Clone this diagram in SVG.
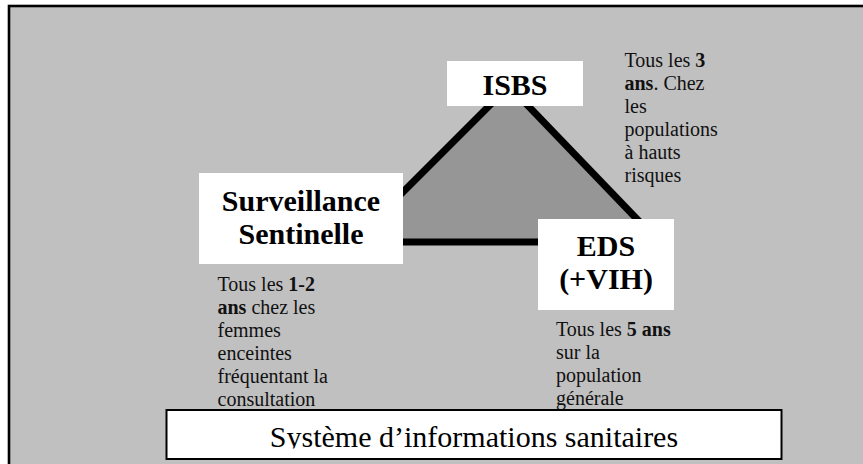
<svg xmlns="http://www.w3.org/2000/svg" width="863" height="464" viewBox="0 0 863 464">
<style>
text{font-family:"Liberation Serif",Tinos,"Times New Roman",Times,"Nimbus Roman","Nimbus Roman No9 L",serif}
.title{font-weight:bold;font-size:30px;fill:#000;text-anchor:middle}
.note{font-size:20px;fill:#111}
.b{font-weight:bold}
.node{fill:#fff;stroke:none}
.edge{stroke:#000;stroke-width:7;fill:none}
.sis{font-size:30px;fill:#000;text-anchor:middle}
</style>
<defs>
<clipPath id="clipSys"><rect x="166" y="410" width="616" height="38.5"/></clipPath>
</defs>
<rect x="0" y="0" width="863" height="464" fill="#fff"/>
<rect x="9" y="6" width="880" height="480" fill="#c0c0c0" stroke="#000" stroke-width="2.6"/>
<g id="connectors">
<polygon points="509,86 353,242 659,242" fill="#969696"/>
<line class="edge" x1="509" y1="86" x2="353" y2="242"/>
<line class="edge" x1="509" y1="86" x2="659" y2="242"/>
<line class="edge" x1="353" y1="242" x2="659" y2="242"/>
</g>
<g id="isbs">
<rect class="node" x="447" y="61" width="136" height="45"/>
<text class="title" x="515" y="95">ISBS</text>
</g>
<g id="surveillance">
<rect class="node" x="199" y="173" width="204" height="91"/>
<text class="title" x="301" y="210.5">Surveillance</text>
<text class="title" x="301" y="244">Sentinelle</text>
</g>
<g id="eds">
<rect class="node" x="538" y="219" width="136" height="91"/>
<text class="title" x="606" y="256">EDS</text>
<text class="title" x="606" y="288.5">(+VIH)</text>
</g>
<g id="note-isbs">
<text class="note" x="624.5" y="66.5">Tous les <tspan class="b">3</tspan></text>
<text class="note" x="624.5" y="89.5"><tspan class="b">ans</tspan>. Chez</text>
<text class="note" x="624.5" y="112.5">les</text>
<text class="note" x="624.5" y="135.5">populations</text>
<text class="note" x="624.5" y="158.5">à hauts</text>
<text class="note" x="624.5" y="181.5">risques</text>
</g>
<g id="note-surveillance">
<text class="note" x="217.5" y="291">Tous les <tspan class="b">1-2</tspan></text>
<text class="note" x="217.5" y="314"><tspan class="b">ans</tspan> chez les</text>
<text class="note" x="217.5" y="337">femmes</text>
<text class="note" x="217.5" y="360">enceintes</text>
<text class="note" x="217.5" y="383">fréquentant la</text>
<text class="note" x="217.5" y="406">consultation</text>
</g>
<g id="note-eds">
<text class="note" x="556" y="336">Tous les <tspan class="b">5 ans</tspan></text>
<text class="note" x="556" y="359">sur la</text>
<text class="note" x="556" y="382">population</text>
<text class="note" x="556" y="405">générale</text>
</g>
<g id="sis">
<rect x="166.5" y="410" width="615" height="49" fill="#fff" stroke="#000" stroke-width="2"/>
<text class="sis" clip-path="url(#clipSys)" x="474" y="447">Système d’informations sanitaires</text>
</g>
</svg>
